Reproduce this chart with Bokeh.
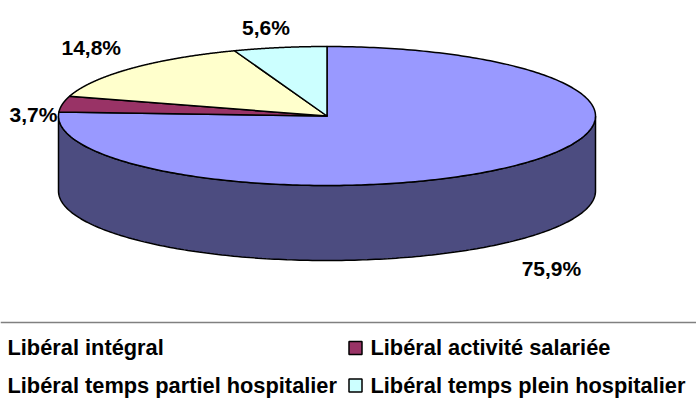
import numpy as np
from bokeh.plotting import figure
from bokeh.models import Range1d, ColumnDataSource
from bokeh.core.properties import value
from bokeh.embed import file_html
from bokeh.resources import INLINE

# ---- data ----
categories = ["Libéral intégral", "Libéral activité salariée",
              "Libéral temps partiel hospitalier", "Libéral temps plein hospitalier"]
shares = [75.9, 3.7, 14.8, 5.6]
share_labels = ["75,9%", "3,7%", "14,8%", "5,6%"]

# ---- style ----
top_colors = ["#9999FF", "#993366", "#FFFFCC", "#CCFFFF"]
side_colors = ["#4C4C80", "#4C1933", "#80806A", "#6A8080"]
label_dx = [40, -29, -40, -14]
label_dy = [27, 10, -21, -20]
FONT = "Liberation Sans"

cx, cy, rx, ry, depth = 326.5, 115.5, 268.5, 69.5, 75.0
W, H = 696, 403

p = figure(width=W, height=H, output_backend="svg", toolbar_location=None,
           x_range=Range1d(0, W), y_range=Range1d(H, 0),
           x_axis_location=None, y_axis_location=None, min_border=0)
p.outline_line_color = None
p.grid.visible = False


def ex(a):
    return cx + rx * np.cos(np.radians(a))


def ey(a):
    return cy - ry * np.sin(np.radians(a))


cum = np.concatenate([[0], np.cumsum(shares)])
starts = 90 - 360 * cum[:-1] / cum[-1]
ends = 90 - 360 * cum[1:] / cum[-1]

# side faces (front half: angles in [-180, 0] mod 360)
sx, sy, sc = [], [], []
for a0, a1, col in zip(starts, ends, side_colors):
    for k in (-1, 0, 1):
        lo = max(a1, -180 + 360 * k)
        hi = min(a0, 0 + 360 * k)
        if hi > lo:
            t = np.linspace(lo, hi, 200)
            xs = np.concatenate([ex(t), ex(t[::-1])])
            ys = np.concatenate([ey(t), ey(t[::-1]) + depth])
            sx.append(list(xs)); sy.append(list(ys)); sc.append(col)
p.patches(sx, sy, fill_color=sc, line_color="black", line_width=1.5)

# top faces
tx, ty = [], []
for a0, a1 in zip(starts, ends):
    t = np.linspace(a0, a1, 300)
    tx.append([cx] + list(ex(t)) + [cx])
    ty.append([cy] + list(ey(t)) + [cy])
p.patches(tx, ty, fill_color=top_colors, line_color="black", line_width=1.5,
          line_join="round")

# labels
mids = (starts + ends) / 2
lx = ex(mids) + np.array(label_dx)
ly = ey(mids) + np.where(np.sin(np.radians(mids)) < 0, depth, 0) + np.array(label_dy)
p.text(x=list(lx), y=list(ly), text=share_labels, text_align="center",
       text_baseline="middle", text_font=value(FONT), text_font_style="bold",
       text_font_size="21px", text_color="black")

# legend
p.line(x=[0, W], y=[322, 322], line_color="#808080", line_width=1.5)
col_x = [7, 370, 7, 370]
row_y = [347, 347, 384.5, 384.5]
leg = ColumnDataSource(dict(x=col_x, y=row_y, mx=[x - 15 for x in col_x],
                            my=[y + 0.5 for y in row_y],
                            c=top_colors, t=categories))
p.rect(x="mx", y="my", width=13, height=13, fill_color="c", line_color="black",
       line_width=1.5, source=leg)
p.text(x="x", y="y", text="t", text_align="left", text_baseline="middle",
       text_font=value(FONT), text_font_style="bold", text_font_size="21.8px",
       text_color="black", source=leg)

open("out.html", "w").write(file_html(p, INLINE))
